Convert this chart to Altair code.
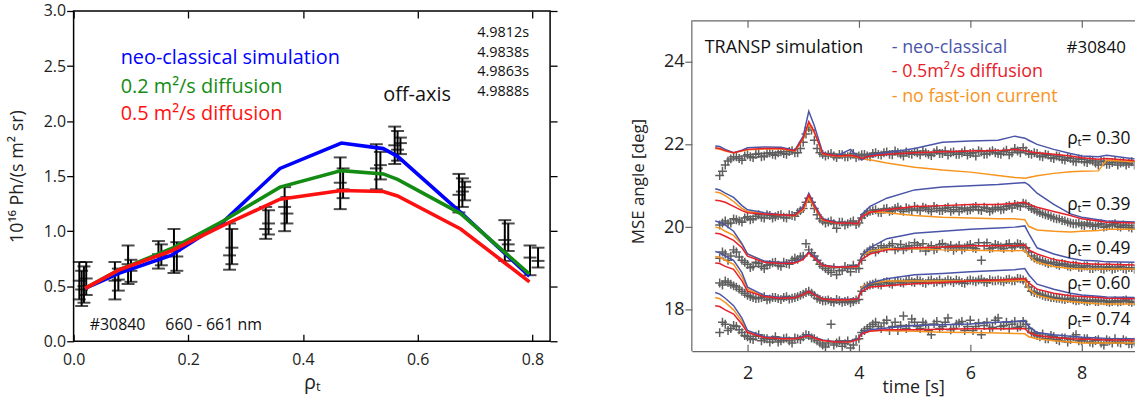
import altair as alt
import pandas as pd

FONT = "Open Sans"

# ======================= LEFT PANEL DATA =======================
rho_sim = [0.02, 0.08, 0.17, 0.26, 0.36, 0.467, 0.54, 0.565, 0.675, 0.795]
sim_neo = [0.48, 0.62, 0.78, 1.08, 1.57, 1.80, 1.75, 1.68, 1.17, 0.59]
sim_d02 = [0.48, 0.65, 0.84, 1.09, 1.40, 1.55, 1.52, 1.47, 1.16, 0.61]
sim_d05 = [0.48, 0.65, 0.82, 1.05, 1.29, 1.37, 1.36, 1.32, 1.02, 0.54]

meas_rho = [0.010, 0.014, 0.018, 0.022, 0.072, 0.078, 0.095, 0.100,
            0.148, 0.153, 0.175, 0.180, 0.272, 0.276, 0.335, 0.340,
            0.368, 0.372, 0.465, 0.470, 0.528, 0.535, 0.560, 0.565,
            0.570, 0.672, 0.678, 0.682, 0.752, 0.758, 0.796, 0.810]
meas_lo = [0.38, 0.32, 0.35, 0.42, 0.38, 0.46, 0.52, 0.54,
           0.66, 0.69, 0.62, 0.64, 0.65, 0.70, 0.93, 0.97,
           1.00, 1.07, 1.20, 1.30, 1.38, 1.47, 1.61, 1.64,
           1.70, 1.17, 1.22, 1.28, 0.73, 0.82, 0.60, 0.67]
meas_hi = [0.72, 0.64, 0.68, 0.72, 0.72, 0.66, 0.87, 0.74,
           0.91, 0.88, 1.02, 0.90, 1.07, 1.02, 1.22, 1.19,
           1.40, 1.31, 1.67, 1.57, 1.79, 1.72, 1.95, 1.91,
           1.85, 1.52, 1.48, 1.45, 1.10, 1.07, 0.87, 0.85]
meas_mid = [0.55, 0.47, 0.50, 0.57, 0.55, 0.56, 0.70, 0.64,
            0.79, 0.78, 0.82, 0.77, 0.78, 0.85, 1.02, 1.07,
            1.22, 1.16, 1.44, 1.38, 1.57, 1.60, 1.78, 1.74,
            1.80, 1.33, 1.36, 1.40, 0.92, 0.88, 0.76, 0.73]

left_text = ["neo-classical simulation", "0.2 m²/s diffusion", "0.5 m²/s diffusion",
             "off-axis", "4.9812s", "4.9838s", "4.9863s", "4.9888s",
             "#30840", "660 - 661 nm"]
left_text_x = [0.082, 0.082, 0.082, 0.540, 0.704, 0.704, 0.704, 0.704, 0.028, 0.160]
left_text_y = [2.57, 2.31, 2.06, 2.24, 2.80, 2.62, 2.45, 2.265, 0.145, 0.145]
left_text_col = ["#0000ff", "#148c14", "#ff1010", "#111111", "#111111", "#111111",
                 "#111111", "#111111", "#111111", "#111111"]
left_text_size = [20, 20, 20, 20, 14.5, 14.5, 14.5, 14.5, 16, 16]

# ======================= RIGHT PANEL DATA =======================
groups = ["0.30", "0.39", "0.49", "0.60", "0.74"]

sim_time = [1.42, 1.5, 1.6, 1.75, 1.9, 2.0, 2.3, 2.6, 2.85, 3.0, 3.1, 3.2, 3.35,
            3.6, 3.85, 3.98, 4.05, 4.2, 4.5, 5.0, 5.5, 6.0, 6.5, 6.8, 6.98,
            7.05, 7.2, 7.5, 7.8, 8.0, 8.3, 8.45, 9.0]

neo_030 = [21.96, 21.95, 21.88, 21.8, 21.86, 21.92, 21.94, 21.93, 21.86, 22.2, 22.8, 22.45, 21.8,
           21.72, 21.88, 21.7, 21.62, 21.75, 21.8, 21.9, 22.05, 22.08, 22.1, 22.2, 22.15,
           22.1, 22.0, 21.88, 21.78, 21.72, 21.7, 21.74, 21.64]
dif_030 = [21.92, 21.9, 21.85, 21.8, 21.85, 21.88, 21.9, 21.9, 21.85, 22.15, 22.55, 22.3, 21.78,
           21.72, 21.74, 21.7, 21.66, 21.72, 21.76, 21.8, 21.82, 21.84, 21.85, 21.88, 21.85,
           21.82, 21.8, 21.76, 21.72, 21.68, 21.64, 21.66, 21.6]
nof_030 = [21.9, 21.88, 21.84, 21.79, 21.84, 21.87, 21.89, 21.89, 21.84, 22.12, 22.5, 22.28, 21.77,
           21.71, 21.73, 21.69, 21.65, 21.63, 21.55, 21.45, 21.38, 21.33, 21.25, 21.2, 21.18,
           21.2, 21.24, 21.3, 21.34, 21.35, 21.36, 21.62, 21.58]

neo_039 = [20.93, 20.9, 20.82, 20.72, 20.52, 20.42, 20.35, 20.3, 20.28, 20.5, 20.82, 20.55, 20.2,
           20.12, 20.1, 20.08, 20.3, 20.5, 20.7, 20.9, 20.97, 21.0, 21.03, 21.06, 21.08,
           21.02, 20.82, 20.55, 20.32, 20.24, 20.18, 20.15, 20.12]
dif_039 = [20.65, 20.64, 20.6, 20.5, 20.4, 20.35, 20.32, 20.3, 20.28, 20.45, 20.78, 20.5, 20.18,
           20.1, 20.1, 20.08, 20.25, 20.36, 20.42, 20.5, 20.52, 20.55, 20.55, 20.58, 20.6,
           20.55, 20.48, 20.38, 20.28, 20.2, 20.15, 20.12, 20.1]
nof_039 = [20.85, 20.83, 20.76, 20.62, 20.45, 20.38, 20.33, 20.3, 20.27, 20.42, 20.7, 20.48, 20.17,
           20.1, 20.1, 20.07, 20.25, 20.38, 20.35, 20.28, 20.24, 20.22, 20.2, 20.2, 20.18,
           20.02, 19.93, 19.9, 19.88, 19.9, 19.92, 19.95, 19.95]

neo_049 = [20.15, 20.12, 20.05, 19.9, 19.6, 19.35, 19.18, 19.14, 19.15, 19.25, 19.4, 19.3, 19.08,
           19.04, 19.05, 19.06, 19.3, 19.5, 19.72, 19.85, 19.9, 19.95, 19.98, 20.0, 20.03,
           19.85, 19.5, 19.35, 19.25, 19.2, 19.18, 19.16, 19.15]
dif_049 = [19.85, 19.84, 19.78, 19.68, 19.5, 19.3, 19.15, 19.12, 19.13, 19.22, 19.38, 19.25, 19.07,
           19.03, 19.04, 19.05, 19.22, 19.35, 19.45, 19.5, 19.52, 19.55, 19.55, 19.55, 19.57,
           19.45, 19.35, 19.22, 19.15, 19.12, 19.1, 19.1, 19.08]
nof_049 = [20.0, 19.98, 19.9, 19.8, 19.58, 19.35, 19.17, 19.13, 19.14, 19.23, 19.38, 19.26, 19.07,
           19.03, 19.04, 19.05, 19.3, 19.42, 19.48, 19.48, 19.45, 19.44, 19.43, 19.43, 19.44,
           19.3, 19.15, 19.05, 19.0, 18.99, 18.99, 18.99, 18.99]

neo_060 = [19.41, 19.38, 19.3, 19.2, 18.9, 18.55, 18.35, 18.3, 18.3, 18.38, 18.46, 18.38, 18.27,
           18.25, 18.26, 18.27, 18.5, 18.65, 18.75, 18.85, 18.88, 18.92, 18.95, 18.97, 19.0,
           18.85, 18.62, 18.5, 18.4, 18.36, 18.33, 18.31, 18.3]
dif_060 = [19.13, 19.12, 19.05, 18.98, 18.7, 18.45, 18.32, 18.28, 18.29, 18.37, 18.45, 18.36, 18.26,
           18.24, 18.25, 18.26, 18.45, 18.55, 18.58, 18.63, 18.66, 18.7, 18.72, 18.74, 18.76,
           18.65, 18.5, 18.4, 18.34, 18.32, 18.3, 18.28, 18.27]
nof_060 = [19.29, 19.27, 19.2, 19.1, 18.8, 18.5, 18.33, 18.29, 18.3, 18.37, 18.45, 18.37, 18.26,
           18.24, 18.25, 18.26, 18.55, 18.65, 18.7, 18.7, 18.7, 18.7, 18.7, 18.7, 18.72,
           18.5, 18.35, 18.25, 18.2, 18.18, 18.15, 18.14, 18.14]

neo_074 = [18.42, 18.38, 18.28, 18.1, 17.8, 17.5, 17.35, 17.32, 17.31, 17.35, 17.4, 17.33, 17.27,
           17.22, 17.24, 17.3, 17.45, 17.52, 17.56, 17.62, 17.64, 17.66, 17.7, 17.72, 17.74,
           17.6, 17.45, 17.4, 17.36, 17.34, 17.32, 17.31, 17.3]
dif_074 = [18.1, 18.08, 18.0, 17.9, 17.65, 17.45, 17.33, 17.3, 17.3, 17.34, 17.38, 17.32, 17.26,
           17.22, 17.23, 17.28, 17.42, 17.48, 17.52, 17.52, 17.53, 17.54, 17.54, 17.54, 17.55,
           17.45, 17.38, 17.33, 17.3, 17.29, 17.28, 17.27, 17.27]
nof_074 = [18.3, 18.27, 18.18, 18.0, 17.72, 17.48, 17.34, 17.31, 17.3, 17.34, 17.39, 17.32, 17.26,
           17.22, 17.23, 17.29, 17.45, 17.5, 17.5, 17.48, 17.46, 17.45, 17.44, 17.43, 17.42,
           17.35, 17.3, 17.25, 17.22, 17.2, 17.2, 17.2, 17.2]

mse_time = [1.5, 1.6, 1.7, 1.8, 1.9, 2.0, 2.1, 2.2, 2.3, 2.4,
            2.5, 2.6, 2.7, 2.8, 2.9, 3.0, 3.1, 3.2, 3.3, 3.4,
            3.5, 3.6, 3.7, 3.8, 3.9, 4.0, 4.1, 4.2, 4.3, 4.4,
            4.5, 4.6, 4.7, 4.8, 4.9, 5.0, 5.1, 5.2, 5.3, 5.4,
            5.5, 5.6, 5.7, 5.8, 5.9, 6.0, 6.1, 6.2, 6.3, 6.4,
            6.5, 6.6, 6.7, 6.8, 6.9, 7.0, 7.1, 7.2, 7.3, 7.4,
            7.5, 7.6, 7.7, 7.8, 7.9, 8.0, 8.1, 8.2, 8.3, 8.4,
            8.5, 8.6, 8.7, 8.8, 8.9]
mse_030 = [21.25, 21.5, 21.65, 21.7, 21.62, 21.75, 21.68, 21.78, 21.72, 21.8,
           21.74, 21.82, 21.76, 21.85, 21.8, 22.05, 22.4, 22.1, 21.8, 21.72,
           21.78, 21.68, 21.75, 21.7, 21.78, 21.72, 21.76, 21.7, 21.8, 21.74,
           21.82, 21.75, 21.8, 21.72, 21.78, 21.82, 21.75, 21.8, 21.73, 21.85,
           21.78, 21.74, 21.82, 21.76, 21.84, 21.78, 21.72, 21.82, 21.77, 21.85,
           21.78, 21.82, 21.75, 21.9, 21.8, 21.84, 21.76, 21.78, 21.7, 21.74,
           21.66, 21.7, 21.62, 21.66, 21.58, 21.64, 21.56, 21.6, 21.5, 21.58,
           21.52, 21.6, 21.55, 21.5, 21.58]
mse_039 = [20.05, 20.15, 20.1, 20.18, 20.12, 20.25, 20.2, 20.3, 20.22, 20.28,
           20.25, 20.3, 20.22, 20.28, 20.35, 20.45, 20.7, 20.45, 20.2, 20.1,
           20.15, 19.97, 20.12, 20.08, 20.15, 20.1, 20.3, 20.38, 20.42, 20.35,
           20.45, 20.4, 20.48, 20.38, 20.44, 20.5, 20.4, 20.46, 20.38, 20.45,
           20.4, 20.48, 20.42, 20.38, 20.46, 20.42, 20.5, 20.4, 20.45, 20.42,
           20.48, 20.44, 20.52, 20.55, 20.5, 20.56, 20.45, 20.38, 20.32, 20.28,
           20.22, 20.2, 20.15, 20.1, 20.08, 20.05, 20.1, 20.02, 20.06, 20.0,
           20.05, 20.08, 20.0, 20.04, 19.98]
mse_049 = [19.25, 19.35, 19.3, 19.4, 19.2, 19.1, 19.05, 19.12, 19.0, 19.1,
           19.15, 19.05, 19.12, 19.2, 19.22, 19.3, 19.45, 19.3, 19.1, 19.0,
           18.9, 18.85, 18.95, 19.0, 19.08, 19.0, 19.35, 19.45, 19.4, 19.55,
           19.48, 19.6, 19.5, 19.45, 19.55, 19.62, 19.5, 19.42, 19.55, 19.48,
           19.6, 19.5, 19.44, 19.56, 19.5, 19.58, 19.48, 19.2, 19.62, 19.5,
           19.56, 19.48, 19.6, 19.54, 19.58, 19.5, 19.3, 19.22, 19.18, 19.12,
           19.15, 19.08, 19.1, 19.04, 19.08, 19.02, 19.06, 19.0, 19.05, 18.98,
           19.04, 19.0, 19.05, 18.98, 19.02]
mse_060 = [18.65, 18.7, 18.62, 18.55, 18.45, 18.35, 18.3, 18.28, 18.32, 18.26,
           18.3, 18.25, 18.32, 18.28, 18.32, 18.38, 18.45, 18.35, 18.25, 18.22,
           18.2, 18.25, 18.18, 18.22, 18.2, 18.25, 18.55, 18.6, 18.65, 18.6,
           18.68, 18.62, 18.7, 18.65, 18.72, 18.66, 18.7, 18.64, 18.72, 18.68,
           18.65, 18.72, 18.66, 18.7, 18.64, 18.72, 18.68, 18.74, 18.66, 18.7,
           18.72, 18.68, 18.74, 18.7, 18.75, 18.68, 18.45, 18.4, 18.35, 18.32,
           18.3, 18.28, 18.25, 18.28, 18.22, 18.25, 18.2, 18.24, 18.2, 18.22,
           18.18, 18.22, 18.2, 18.24, 18.18]
mse_074 = [17.45, 17.65, 17.55, 17.6, 17.45, 17.35, 17.28, 17.4, 17.3, 17.22,
           17.35, 17.25, 17.32, 17.2, 17.3, 17.35, 17.38, 17.3, 17.2, 17.1,
           17.65, 17.2, 17.12, 17.25, 17.15, 17.3, 17.5, 17.6, 17.7, 17.55,
           17.75, 17.6, 17.5, 17.85, 17.62, 17.7, 17.55, 17.65, 17.4, 17.72,
           17.6, 17.8, 17.55, 17.68, 17.5, 17.75, 17.6, 17.4, 17.7, 17.58,
           17.8, 17.62, 17.55, 17.72, 17.6, 17.65, 17.45, 17.38, 17.42, 17.3,
           17.35, 17.25, 17.32, 17.28, 17.4, 17.25, 17.3, 17.2, 17.28, 17.15,
           17.25, 17.3, 17.2, 17.25, 17.18]

mse_time2 = [1.55, 1.65, 1.75, 1.85, 1.95, 2.05, 2.15, 2.25, 2.35, 2.45,
             2.55, 2.65, 2.75, 2.85, 2.95, 3.05, 3.15, 3.25, 3.35, 3.45,
             3.55, 3.65, 3.75, 3.85, 3.95, 4.05, 4.15, 4.25, 4.35, 4.45,
             4.55, 4.65, 4.75, 4.85, 4.95, 5.05, 5.15, 5.25, 5.35, 5.45,
             5.55, 5.65, 5.75, 5.85, 5.95, 6.05, 6.15, 6.25, 6.35, 6.45,
             6.55, 6.65, 6.75, 6.85, 6.95, 7.05, 7.15, 7.25, 7.35, 7.45,
             7.55, 7.65, 7.75, 7.85, 7.95, 8.05, 8.15, 8.25, 8.35, 8.45,
             8.55, 8.65, 8.75, 8.85, 8.95]
mse2_030 = [21.35, 21.6, 21.7, 21.66, 21.72, 21.7, 21.76, 21.7, 21.78, 21.76,
            21.8, 21.78, 21.83, 21.8, 21.9, 22.25, 22.35, 21.9, 21.76, 21.75,
            21.72, 21.76, 21.7, 21.74, 21.68, 21.75, 21.72, 21.78, 21.76, 21.8,
            21.76, 21.84, 21.77, 21.82, 21.76, 21.8, 21.84, 21.76, 21.8, 21.78,
            21.84, 21.8, 21.76, 21.8, 21.74, 21.8, 21.85, 21.76, 21.82, 21.8,
            21.76, 21.86, 21.8, 21.84, 21.92, 21.78, 21.8, 21.72, 21.76, 21.68,
            21.72, 21.64, 21.68, 21.6, 21.65, 21.58, 21.62, 21.55, 21.6, 21.52,
            21.56, 21.5, 21.57, 21.54, 21.5]
mse2_039 = [20.1, 20.08, 20.2, 20.15, 20.22, 20.18, 20.26, 20.24, 20.3, 20.22,
            20.28, 20.24, 20.3, 20.26, 20.4, 20.6, 20.6, 20.3, 20.15, 20.12,
            20.08, 20.12, 20.05, 20.12, 20.06, 20.22, 20.35, 20.4, 20.36, 20.44,
            20.38, 20.45, 20.42, 20.47, 20.4, 20.44, 20.48, 20.42, 20.5, 20.4,
            20.45, 20.38, 20.48, 20.44, 20.4, 20.47, 20.42, 20.48, 20.38, 20.46,
            20.42, 20.5, 20.46, 20.52, 20.58, 20.5, 20.42, 20.35, 20.3, 20.25,
            20.2, 20.16, 20.12, 20.08, 20.1, 20.04, 20.07, 20.03, 20.08, 20.02,
            20.06, 20.02, 20.05, 20.0, 20.04]
mse2_049 = [19.4, 19.2, 19.45, 19.28, 19.15, 19.02, 19.15, 19.05, 19.08, 19.14,
            19.08, 19.15, 19.1, 19.25, 19.28, 19.6, 19.38, 19.2, 19.05, 18.95,
            19.02, 18.95, 19.05, 18.92, 19.0, 19.2, 19.4, 19.5, 19.45, 19.5,
            19.55, 19.45, 19.58, 19.52, 19.48, 19.56, 19.6, 19.5, 19.45, 19.58,
            19.52, 19.56, 19.5, 19.45, 19.55, 19.5, 19.62, 19.55, 19.48, 19.58,
            19.52, 19.58, 19.5, 19.6, 19.52, 19.4, 19.25, 19.2, 19.15, 19.14,
            19.1, 19.12, 19.06, 19.08, 19.03, 19.06, 19.0, 19.04, 19.0, 19.03,
            18.98, 19.03, 19.0, 19.02, 18.98]
mse2_060 = [18.6, 18.66, 18.58, 18.5, 18.4, 18.32, 18.27, 18.3, 18.24, 18.3,
            18.27, 18.3, 18.26, 18.3, 18.35, 18.42, 18.4, 18.28, 18.22, 18.24,
            18.18, 18.22, 18.2, 18.17, 18.24, 18.45, 18.58, 18.62, 18.62, 18.66,
            18.64, 18.68, 18.66, 18.7, 18.68, 18.72, 18.66, 18.7, 18.66, 18.72,
            18.68, 18.7, 18.72, 18.66, 18.7, 18.7, 18.72, 18.68, 18.73, 18.7,
            18.7, 18.73, 18.7, 18.76, 18.72, 18.55, 18.42, 18.38, 18.33, 18.3,
            18.28, 18.26, 18.27, 18.24, 18.23, 18.22, 18.22, 18.2, 18.23, 18.2,
            18.2, 18.19, 18.22, 18.2, 18.2]
mse2_074 = [17.7, 17.5, 17.62, 17.52, 17.38, 17.3, 17.36, 17.25, 17.3, 17.28,
            17.22, 17.3, 17.25, 17.32, 17.28, 17.4, 17.32, 17.25, 17.15, 17.2,
            17.15, 17.25, 17.18, 17.08, 17.28, 17.45, 17.55, 17.65, 17.6, 17.68,
            17.5, 17.7, 17.62, 17.55, 17.78, 17.6, 17.7, 17.5, 17.66, 17.55,
            17.7, 17.52, 17.65, 17.72, 17.6, 17.5, 17.68, 17.62, 17.55, 17.75,
            17.6, 17.7, 17.65, 17.58, 17.72, 17.55, 17.42, 17.35, 17.3, 17.38,
            17.28, 17.32, 17.22, 17.35, 17.25, 17.3, 17.22, 17.26, 17.2, 17.28,
            17.2, 17.22, 17.28, 17.18, 17.22]

right_text = ["TRANSP simulation", "- neo-classical", "- 0.5m²/s diffusion",
              "- no fast-ion current", "#30840",
              "ρₜ= 0.30", "ρₜ= 0.39", "ρₜ= 0.49", "ρₜ= 0.60", "ρₜ= 0.74"]
right_text_x = [1.232, 4.59, 4.59, 4.59, 7.73, 7.74, 7.74, 7.74, 7.74, 7.74]
right_text_y = [24.34, 24.34, 23.75, 23.15, 24.34, 22.12, 20.53, 19.46, 18.62, 17.75]
right_text_col = ["#111111", "#4a55a8", "#e8202a", "#f7941d", "#111111",
                  "#111111", "#111111", "#111111", "#111111", "#111111"]
right_text_size = [18, 18, 18, 18, 17, 17.5, 17.5, 17.5, 17.5, 17.5]

# ======================= TABLES =======================
sim_df = pd.DataFrame({
    "rho": rho_sim * 3,
    "val": sim_neo + sim_d02 + sim_d05,
    "sim": ["neo"] * len(rho_sim) + ["d02"] * len(rho_sim) + ["d05"] * len(rho_sim),
})
bars_df = pd.DataFrame({"rho": meas_rho, "lo": meas_lo, "hi": meas_hi})
caps_df = pd.DataFrame({
    "rho": meas_rho * 3,
    "v": meas_lo + meas_hi + meas_mid,
})
ltxt_df = pd.DataFrame({"x": left_text_x, "y": left_text_y, "label": left_text,
                        "col": left_text_col, "fs": left_text_size})

neo_all = [neo_030, neo_039, neo_049, neo_060, neo_074]
dif_all = [dif_030, dif_039, dif_049, dif_060, dif_074]
nof_all = [nof_030, nof_039, nof_049, nof_060, nof_074]
mse_all = [mse_030, mse_039, mse_049, mse_060, mse_074]
mse2_all = [mse2_030, mse2_039, mse2_049, mse2_060, mse2_074]

rows = []
for g, a, b, c in zip(groups, neo_all, dif_all, nof_all):
    for t, va, vb, vc in zip(sim_time, a, b, c):
        rows.append({"t": t, "grp": g, "neo": va, "dif": vb, "nof": vc})
rsim_df = pd.DataFrame(rows)

prow = []
for g, vals, vals2 in zip(groups, mse_all, mse2_all):
    for t, v in zip(mse_time, vals):
        prow.append({"t": t, "grp": g, "v": v})
    for t, v in zip(mse_time2, vals2):
        prow.append({"t": t, "grp": g, "v": v})
mse_df = pd.DataFrame(prow)

rtxt_df = pd.DataFrame({"x": right_text_x, "y": right_text_y, "label": right_text,
                        "col": right_text_col, "fs": right_text_size})

# ======================= LEFT CHART =======================
LW, LH = 479, 332
lx_dom = [0, 0.831]
ly_dom = [0, 3.0]
lxs = alt.Scale(domain=lx_dom, nice=False, zero=False)
lys = alt.Scale(domain=ly_dom, nice=False, zero=False)
lx_ticks = [0, 0.2, 0.4, 0.6, 0.8]
ly_ticks = [0, 0.5, 1.0, 1.5, 2.0, 2.5, 3.0]

lx_main = alt.Axis(orient="bottom", values=lx_ticks, format=".1f", labelFlush=False,
                   ticks=False, domain=False, grid=False, labelPadding=10,
                   labelFontSize=16, labelColor="#222222", title="ρₜ",
                   titleFontSize=20, titleFontWeight="normal", titlePadding=5,
                   titleColor="#222222")
ly_main = alt.Axis(orient="left", values=ly_ticks, format=".1f", tickSize=7,
                   tickColor="black", tickWidth=1.3, domain=False, grid=False,
                   labelPadding=1, labelFontSize=16, labelColor="#222222",
                   title="10¹⁶ Ph/(s m² sr)", titleFontSize=18,
                   titleFontWeight="normal", titlePadding=17, titleColor="#222222")
lx_bot_in = alt.Axis(orient="top", offset=-LH, values=lx_ticks, tickSize=7,
                     tickColor="black", tickWidth=1.3, labels=False, domain=False,
                     grid=False, title=None)
lx_top_in = alt.Axis(orient="bottom", offset=-LH, values=lx_ticks, tickSize=7,
                     tickColor="black", tickWidth=1.3, labels=False, domain=False,
                     grid=False, title=None)
ly_right = alt.Axis(orient="right", values=ly_ticks, tickSize=7, tickColor="black",
                    tickWidth=1.3, labels=False, domain=False, grid=False, title=None)

sim_colors = {"neo": "#0000ff", "d02": "#148c14", "d05": "#ff1010"}

l_lines = []
for i, key in enumerate(["neo", "d02", "d05"]):
    l_lines.append(
        alt.Chart(sim_df).transform_filter(alt.datum.sim == key)
        .mark_line(strokeWidth=3.6, color=sim_colors[key], clip=True)
        .encode(
            x=alt.X("rho:Q", scale=lxs, axis=lx_main if i == 0 else None),
            y=alt.Y("val:Q", scale=lys, axis=ly_main if i == 0 else None),
        )
    )

l_bars = alt.Chart(bars_df).mark_rule(color="black", strokeWidth=2).encode(
    x=alt.X("rho:Q", scale=lxs, axis=lx_bot_in),
    y=alt.Y("lo:Q", scale=lys, axis=ly_right),
    y2="hi:Q",
)
l_caps = alt.Chart(caps_df).mark_tick(color="black", thickness=2, size=13,
                                      orient="horizontal").encode(
    x=alt.X("rho:Q", scale=lxs, axis=lx_top_in),
    y=alt.Y("v:Q", scale=lys, axis=None),
)
l_text = alt.Chart(ltxt_df).mark_text(align="left", baseline="middle", font=FONT).encode(
    x=alt.X("x:Q", scale=lxs, axis=None),
    y=alt.Y("y:Q", scale=lys, axis=None),
    text="label:N",
    color=alt.Color("col:N", scale=None),
    size=alt.Size("fs:Q", scale=None),
)

left = alt.layer(l_bars, l_caps, *l_lines, l_text).resolve_axis(
    x="independent", y="independent"
).properties(width=LW, height=LH,
             view=alt.ViewBackground(stroke="black", strokeWidth=1.5))

# ======================= RIGHT CHART =======================
RW, RH = 445, 342
TOPGAP = 9.4
rx_dom = [1.0, 8.95]
frame_y = [17, 25]
ry_top = frame_y[1] + TOPGAP * (frame_y[1] - frame_y[0]) / (RH - TOPGAP)
rxs = alt.Scale(domain=rx_dom, nice=False, zero=False)
rys = alt.Scale(domain=[frame_y[0], ry_top], nice=False, zero=False)
rx_ticks = [2, 4, 6, 8]
ry_ticks = [18, 20, 22, 24]
FR = "#666666"

rx_main = alt.Axis(orient="bottom", values=rx_ticks, format="d", labelFlush=False,
                   ticks=False, domain=True, domainColor=FR, domainWidth=1.2,
                   grid=False, labelPadding=13, labelFontSize=18, labelColor="#222222",
                   title="time [s]", titleFontSize=18, titleFontWeight="normal",
                   titlePadding=-3, titleColor="#222222")
ry_main = alt.Axis(orient="left", values=ry_ticks, format="d", tickSize=7,
                   tickColor=FR, tickWidth=1.2, domain=False, grid=False,
                   labelPadding=1, labelFontSize=18, labelColor="#222222",
                   title="MSE angle [deg]", titleFontSize=17, titleFontWeight="normal",
                   titlePadding=16, titleColor="#222222")
rx_bot_in = alt.Axis(orient="top", offset=-RH, values=rx_ticks, tickSize=7,
                     tickColor=FR, tickWidth=1.2, labels=False, domain=False,
                     grid=False, title=None)
rx_top_in = alt.Axis(orient="bottom", offset=-(RH - TOPGAP), values=rx_ticks,
                     tickSize=7, tickColor=FR, tickWidth=1.2, labels=False,
                     domain=False, grid=False, title=None)
rx_top_frame = alt.Axis(orient="top", offset=-TOPGAP, values=rx_ticks, ticks=False,
                        labels=False, domain=True, domainColor=FR, domainWidth=1.2,
                        grid=False, title=None)

cross = "M-1,0L1,0M0,-1L0,1"
r_pts = alt.Chart(mse_df).mark_point(shape=cross, filled=False, strokeWidth=1.5,
                                     size=80, color="#5e5e5e", opacity=1,
                                     clip=True).encode(
    x=alt.X("t:Q", scale=rxs, axis=rx_main),
    y=alt.Y("v:Q", scale=rys, axis=ry_main),
)

def sim_layer(field, color, axis):
    return alt.Chart(rsim_df).mark_line(strokeWidth=1.5, color=color, clip=True).encode(
        x=alt.X("t:Q", scale=rxs, axis=axis),
        y=alt.Y(field + ":Q", scale=rys, axis=None),
        detail="grp:N",
    )

r_nof = sim_layer("nof", "#f7941d", rx_bot_in)
r_neo = sim_layer("neo", "#4a55a8", rx_top_in)
r_dif = sim_layer("dif", "#e8202a", rx_top_frame)

frame_df = pd.DataFrame({"t": [rx_dom[0]], "lo": [frame_y[0]], "hi": [frame_y[1]]})
r_frame = alt.Chart(frame_df).mark_rule(color=FR, strokeWidth=1.2).encode(
    x=alt.X("t:Q", scale=rxs, axis=None),
    y=alt.Y("lo:Q", scale=rys, axis=None),
    y2="hi:Q",
)

r_text = alt.Chart(rtxt_df).mark_text(align="left", baseline="middle", font=FONT,
                                      clip=True).encode(
    x=alt.X("x:Q", scale=rxs, axis=None),
    y=alt.Y("y:Q", scale=rys, axis=None),
    text="label:N",
    color=alt.Color("col:N", scale=None),
    size=alt.Size("fs:Q", scale=None),
)

right = alt.layer(r_pts, r_nof, r_neo, r_dif, r_frame, r_text).resolve_axis(
    x="independent", y="independent"
).properties(width=RW, height=RH,
             view=alt.ViewBackground(stroke="transparent"))

chart = alt.hconcat(left, right, spacing=69.5).properties(
    padding={"left": 7, "top": 1, "right": 0, "bottom": 0},
    background="white",
).configure_axis(
    labelFont=FONT, titleFont=FONT
).configure_text(font=FONT)

chart.save("out.html", embed_options={"renderer": "svg", "actions": False})
